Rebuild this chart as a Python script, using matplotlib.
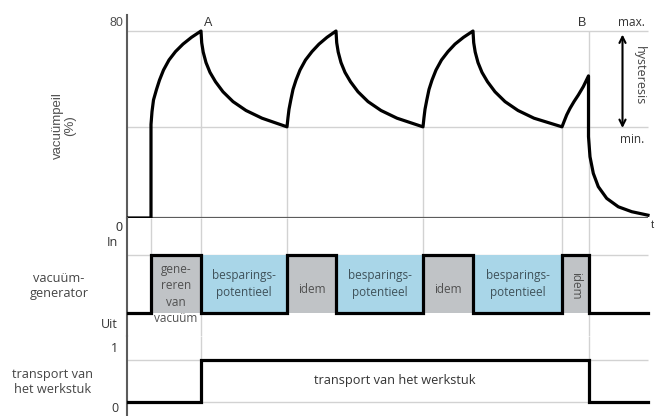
import matplotlib.pyplot as plt

# ------------------------------------------------
# data (time in arbitrary units, vacuum in %)
# ------------------------------------------------
vac_t = [0.0, 2.4, 2.4, 2.5, 2.65, 2.95, 3.25, 3.65, 4.2, 4.85, 5.6, 6.45, 7.4,
         7.47, 7.62, 7.9, 8.3, 8.85, 9.6, 10.6, 11.9, 13.5, 16.0,
         16.1, 16.2, 16.38, 16.6, 16.9, 17.3, 17.85, 18.5, 19.2, 20.0, 20.9,
         20.97, 21.12, 21.4, 21.8, 22.35, 23.1, 24.1, 25.4, 27.0, 29.6,
         29.7, 29.8, 29.98, 30.2, 30.5, 30.9, 31.45, 32.1, 32.8, 33.65, 34.6,
         34.67, 34.82, 35.1, 35.5, 36.05, 36.8, 37.8, 39.1, 40.7, 43.5,
         43.7, 43.97, 44.3, 44.7, 45.13, 45.63, 46.15,
         46.15, 46.3, 46.63, 47.13, 47.97, 49.13, 50.47, 52.1]
vac_pct = [0, 0, 40, 45.5, 50.5, 55, 59, 63.3, 67.6, 71.2, 74.4, 77.3, 80,
           75, 71, 66.5, 62.3, 58.3, 54, 49.8, 46, 42.7, 39,
           43, 46.5, 50.5, 55, 59, 63.3, 67.6, 71.2, 74.4, 77.3, 80,
           75, 71, 66.5, 62.3, 58.3, 54, 49.8, 46, 42.7, 39,
           43, 46.5, 50.5, 55, 59, 63.3, 67.6, 71.2, 74.4, 77.3, 80,
           75, 71, 66.5, 62.3, 58.3, 54, 49.8, 46, 42.7, 39,
           41.2, 44.1, 46.9, 49.8, 52.6, 56.2, 60.8,
           34.8, 26.2, 19.1, 13.4, 8.4, 4.8, 2.7, 1.2]

vac_max = 80
vac_min = 39
t_end = 52.1
t_start = 2.4
t_A = 7.4
t_B = 46.2
t_troughs = [16.0, 29.6, 43.5]

# vacuum generator: 1 = In, 0 = Uit
gen_t = [0, 2.4, 7.4, 16.0, 20.9, 29.6, 34.6, 43.5, 46.2, 52.1]
gen_state = [0, 1, 0, 1, 0, 1, 0, 1, 0, 0]

# phases of the generator
phase_start = [2.4, 7.4, 16.0, 20.9, 29.6, 34.6, 43.5]
phase_end = [7.4, 16.0, 20.9, 29.6, 34.6, 43.5, 46.2]
phase_kind = ['gen', 'save', 'gen', 'save', 'gen', 'save', 'gen']
phase_text = ['gene-\nreren\nvan\nvacuüm', 'besparings-\npotentieel', 'idem',
              'besparings-\npotentieel', 'idem', 'besparings-\npotentieel', 'idem']

# transport of the work piece
trans_t = [0, 7.4, 46.2, 52.1]
trans_state = [0, 1, 0, 0]

# ------------------------------------------------
# styling
# ------------------------------------------------
grid_c = '#d2d2d2'
axis_c = '#5c5c5c'
gray_box = '#c0c3c6'
blue_box = '#a9d6e8'
box_txt = '#3f525a'
lbl_c = '#505050'
humanist = ['Open Sans', 'DejaVu Sans']
plain = ['Liberation Sans', 'DejaVu Sans']

fig = plt.figure(figsize=(6.57, 4.16), dpi=100)
L, W = 127 / 657, 530 / 657
ax1 = fig.add_axes([L, 1 - 218 / 416, W, 203 / 416])
ax2 = fig.add_axes([L, 1 - 336 / 416, W, 118 / 416])
ax3 = fig.add_axes([L, 0, W, 80 / 416])

for ax in (ax1, ax2, ax3):
    ax.set_xlim(0, 53.0)
    for s in ('top', 'right', 'bottom'):
        ax.spines[s].set_visible(False)
    ax.spines['left'].set_color(axis_c)
    ax.spines['left'].set_linewidth(1.5)
    ax.set_xticks([])
    ax.set_yticks([])
    ax.patch.set_alpha(0)

ax1.set_ylim(0, 86.85)
ax2.set_ylim(-0.397, 1.638)
ax3.set_ylim(-0.333, 1.571)

# ---------------- top: vacuum level ----------------
ax1.hlines([vac_max, vac_min], 0, t_end, color=grid_c, lw=1.0, zorder=1)
ax1.vlines([t_A, t_B], 0, vac_max, color=grid_c, lw=1.0, zorder=1)
ax1.vlines(t_troughs, 0, vac_min, color=grid_c, lw=1.0, zorder=1)
ax1.hlines(0, 0, t_end, color=axis_c, lw=1.6, zorder=2)
ax1.plot(vac_t, vac_pct, color='black', lw=2.3, zorder=3, solid_joinstyle='round')

ax1.text(-0.4, vac_max + 0.8, '80', ha='right', va='bottom', fontsize=9,
         color=lbl_c, family=plain)
ax1.text(-0.4, -1.5, '0', ha='right', va='top', fontsize=9, color='#333333', family=plain)
ax1.text(t_A + 0.3, vac_max + 1.0, 'A', ha='left', va='bottom', fontsize=9,
         color='#333333', family=plain)
ax1.text(t_B - 0.3, vac_max + 1.0, 'B', ha='right', va='bottom', fontsize=9,
         color='#333333', family=plain)
ax1.text(50.4, vac_max + 1.0, 'max.', ha='center', va='bottom', fontsize=8.5,
         color='#333333', family=humanist)
ax1.text(50.5, vac_min - 2.5, 'min.', ha='center', va='top', fontsize=8.5,
         color='#333333', family=humanist)
ax1.annotate('', xy=(49.55, vac_max - 1.5), xytext=(49.55, vac_min - 0.5),
             arrowprops=dict(arrowstyle='<->', color='black', lw=1.5,
                             mutation_scale=11, shrinkA=0, shrinkB=0))
ax1.text(51.2, (vac_max + vac_min) / 2 + 1.5, 'hysteresis', rotation=-90, ha='center',
         va='center', fontsize=9, color='#444444', family=humanist)
ax1.text(52.4, -1.0, 't', ha='left', va='top', fontsize=8, color='#333333',
         family=plain, clip_on=False)
fig.text(64 / 657, 1 - 126 / 416, 'vacuümpeil\n(%)', rotation=90, ha='center',
         va='center', fontsize=9.5, color=lbl_c, family=plain, linespacing=1.1)

# ---------------- middle: vacuum generator ----------------
ax2.hlines(1, 0, t_end, color=grid_c, lw=1.0, zorder=1)
ax2.vlines([t_start], 1, 1.638, color=grid_c, lw=1.0, zorder=1)
ax2.vlines([t_A, t_B], -0.397, 1.638, color=grid_c, lw=1.0, zorder=1)
ax2.vlines(t_troughs, 0, 1.638, color=grid_c, lw=1.0, zorder=1)
for s, e, k, txt in zip(phase_start, phase_end, phase_kind, phase_text):
    ax2.bar(s, 1, width=e - s, bottom=0, align='edge',
            color=gray_box if k == 'gen' else blue_box, lw=0, zorder=2)
    xc = (s + e) / 2
    if txt.startswith('gene'):
        ax2.text(xc, 0.33, txt, ha='center', va='center', fontsize=8.5, color='#505050',
                 family=humanist, linespacing=1.35, zorder=4)
    elif txt == 'idem' and e - s < 4:
        ax2.text(xc, 0.47, txt, ha='center', va='center', rotation=-90, fontsize=8.5,
                 color='#505050', family=humanist, zorder=4)
    elif txt == 'idem':
        ax2.text(xc, 0.4, txt, ha='center', va='center', fontsize=8.5, color='#505050',
                 family=humanist, zorder=4)
    else:
        ax2.text(xc, 0.5, txt, ha='center', va='center', fontsize=8.5, color=box_txt,
                 family=humanist, linespacing=1.35, zorder=4)
ax2.plot(gen_t, gen_state, drawstyle='steps-post', color='black', lw=2.3, zorder=3,
         solid_joinstyle='miter')
ax2.text(-0.9, 1.1, 'In', ha='right', va='bottom', fontsize=9, color='#333333',
         family=humanist)
ax2.text(-0.9, -0.08, 'Uit', ha='right', va='top', fontsize=9, color='#333333',
         family=humanist)
fig.text(59 / 657, 1 - 286 / 416, 'vacuüm-\ngenerator', ha='center', va='center',
         fontsize=9.2, color='#444444', family=humanist, linespacing=1.2)

# ---------------- bottom: transport ----------------
ax3.hlines([1, 0], 0, t_end, color=grid_c, lw=1.0, zorder=1)
ax3.vlines([t_A, t_B], 1, 1.571, color=grid_c, lw=1.0, zorder=1)
ax3.plot(trans_t, trans_state, drawstyle='steps-post', color='black', lw=2.3, zorder=3,
         solid_joinstyle='miter')
ax3.text((t_A + t_B) / 2, 0.52, 'transport van het werkstuk', ha='center', va='center',
         fontsize=9.2, color='#333333', family=humanist)
ax3.text(-0.9, 1.12, '1', ha='right', va='bottom', fontsize=9, color='#333333',
         family=humanist)
ax3.text(-0.9, -0.31, '0', ha='right', va='bottom', fontsize=9, color='#333333',
         family=humanist)
fig.text(53 / 657, 1 - 382 / 416, 'transport van\nhet werkstuk', ha='center',
         va='center', fontsize=9.2, color='#444444', family=humanist, linespacing=1.2)

fig.savefig('out.png', dpi=100)
